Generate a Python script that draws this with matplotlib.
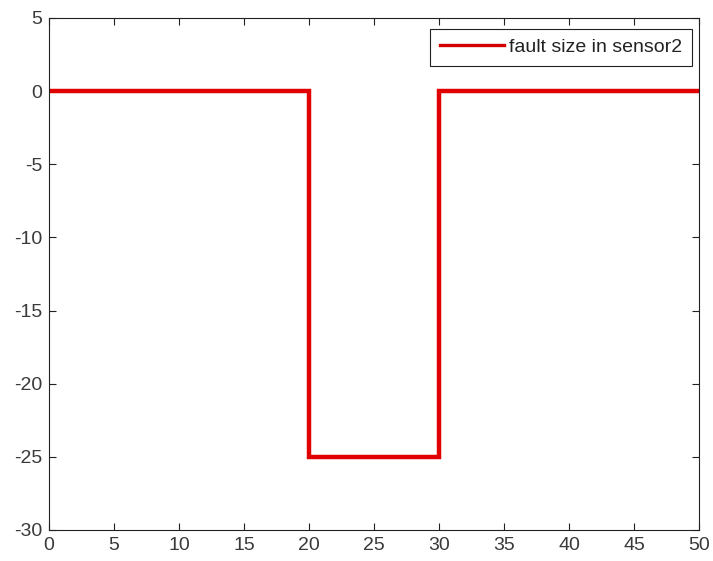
import matplotlib.pyplot as plt
from matplotlib.lines import Line2D

plt.rcParams['font.family'] = ['Liberation Sans', 'DejaVu Sans']
plt.rcParams['axes.unicode_minus'] = False

# step signal of the sensor fault (time, fault size)
t = [0, 20, 20, 30, 30, 50]
fault = [0, 0, -25, -25, 0, 0]

xticks = list(range(0, 55, 5))
yticks = list(range(-30, 10, 5))

fig = plt.figure(figsize=(7.13, 5.61), dpi=100)
ax = fig.add_axes([0.0687, 0.0553, 0.9117, 0.9127])

ax.plot(t, fault, color='#e00000', linewidth=3.2, solid_joinstyle='miter')

ax.set_xlim(0, 50)
ax.set_ylim(-30, 5)
ax.set_xticks(xticks)
ax.set_yticks(yticks)
ax.tick_params(direction='in', top=True, right=True, length=5, width=0.8,
               color='#222222', labelcolor='#3a3a3a', labelsize=14)
ax.tick_params(axis='x', pad=5)
ax.tick_params(axis='y', pad=5)
for sp in ax.spines.values():
    sp.set_linewidth(0.8)
    sp.set_color('#222222')

handle = Line2D([0], [0], color='#d40000', linewidth=2.4)
leg = ax.legend([handle], ['fault size in sensor2'], loc='upper right',
                bbox_to_anchor=(0.989, 0.9785), borderaxespad=0,
                fancybox=False, framealpha=1, edgecolor='#222222',
                fontsize=14, handlelength=3.3, handletextpad=0.25,
                borderpad=0.5)
leg.get_frame().set_linewidth(0.8)
for txt in leg.get_texts():
    txt.set_color('#222222')

fig.savefig('out.png', dpi=100)
